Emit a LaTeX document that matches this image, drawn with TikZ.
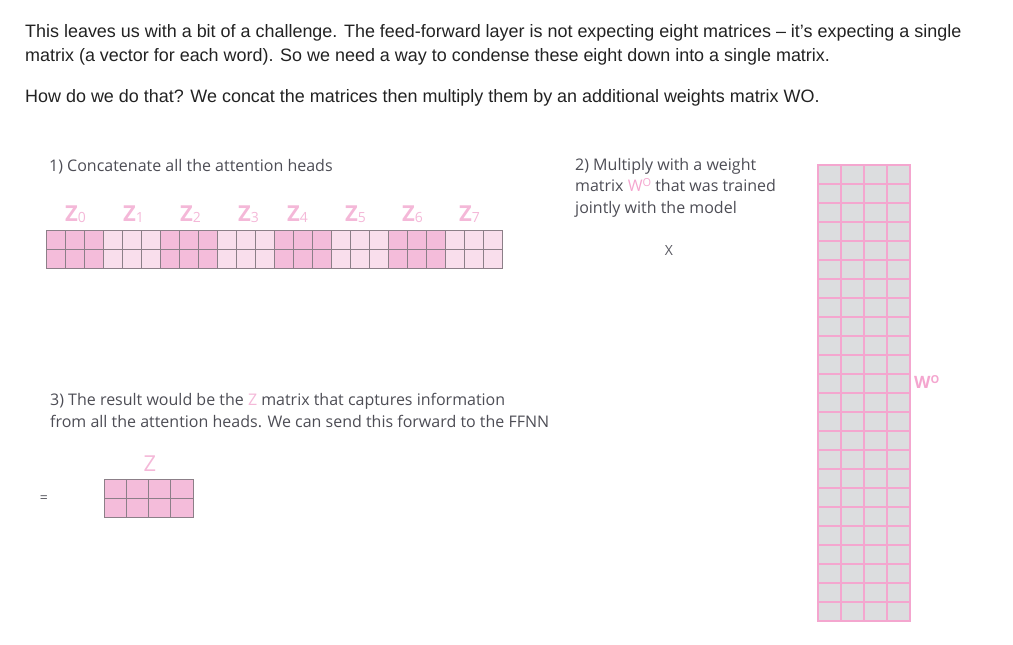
\documentclass[tikz,border=0pt]{standalone}
\usepackage{fontspec}
\setmainfont{Liberation Sans}
\newfontfamily\stepfont{Open Sans}
\usetikzlibrary{positioning}
\definecolor{ink}{HTML}{222222}
\definecolor{stepgray}{HTML}{4D4D55}
\definecolor{zpink}{HTML}{F4B8D8}
\definecolor{wpink}{HTML}{F4A6CF}
\definecolor{cellfull}{HTML}{F4BCDA}
\definecolor{celllight}{HTML}{F9DEEC}
\definecolor{gridline}{HTML}{8C7F88}
\definecolor{wgrey}{HTML}{DCDDDF}
\definecolor{signgray}{HTML}{5A5A62}
\newcommand{\zsub}[1]{\raisebox{-1pt}{\fontsize{14}{14}\selectfont\mdseries #1}}
\newcommand{\wsup}{\raisebox{5pt}{\fontsize{11}{11}\selectfont O}}
\tikzset{
  para/.style={anchor=base west, inner sep=0pt, text=ink, font=\fontsize{17.95}{24}\selectfont},
  steptxt/.style={anchor=base west, inner sep=0pt, text=stepgray, font=\stepfont\fontsize{16}{21.3}\selectfont, align=left},
  zlab/.style={anchor=base west, inner sep=0pt, text=zpink, font=\stepfont\bfseries\fontsize{22}{22}\selectfont},
  zbig/.style={anchor=base, inner sep=0pt, text=zpink, font=\stepfont\fontsize{22}{22}\selectfont},
  wlab/.style={anchor=base west, inner sep=0pt, text=wpink, font=\stepfont\bfseries\fontsize{17}{17}\selectfont},
  sign/.style={anchor=base, inner sep=0pt, text=signgray, font=\stepfont\fontsize{14}{14}\selectfont},
  zcell/.style={draw=gridline, line width=0.9pt},
  wcell/.style={draw=wpink, fill=wgrey, line width=2pt},
}
\begin{document}
\begin{tikzpicture}[x=1pt,y=-1pt]
\useasboundingbox (0,0) rectangle (1013,645);
\node[para] (intro1) at (25,37) {This leaves us with a bit of a challenge. The feed-forward layer is not expecting eight matrices – it’s expecting a single};
\node[para] (intro2) at (25,61) {matrix (a vector for each word). So we need a way to condense these eight down into a single matrix.};
\node[para] (intro3) at (25,102) {How do we do that? We concat the matrices then multiply them by an additional weights matrix WO.};

\node[steptxt] (step1) at (49,171) {1) Concatenate all the attention heads};
\foreach \g/\x in {0/65,1/123,2/180,3/238,4/287,5/345,6/402,7/459}{
  \node[zlab] (z\g) at (\x,221) {Z\zsub{\g}};
}
\foreach \g/\col in {0/cellfull,1/celllight,2/cellfull,3/celllight,4/cellfull,5/celllight,6/cellfull,7/celllight}{
  \foreach \k in {0,1,2}{
    \foreach \r in {0,1}{
      \draw[zcell, fill=\col] ({46+57*\g+19*\k},{230+19*\r}) rectangle ++(19,19);
    }
  }
}

\node[steptxt] (step2) at (575,213) {2) Multiply with a weight\\matrix {\color{wpink}W\wsup} that was trained\\jointly with the model};
\node[sign] (times) at (669,255) {X};
\foreach \r in {0,...,23}{
  \foreach \c in {0,...,3}{
    \draw[wcell] ({818+23*\c},{165+19*\r}) rectangle ++(23,19);
  }
}
\node[wlab] (wo) at (914,388) {W\wsup};

\node[steptxt] (step3) at (50,427) {3) The result would be the {\color{zpink}Z} matrix that captures information\\from all the attention heads. We can send this forward to the FFNN};
\node[zbig] (zres) at (150,471) {Z};
\foreach \r in {0,1}{
  \foreach \c in {0,...,3}{
    \draw[zcell, fill=cellfull] ({104+22.25*\c},{479+19*\r}) rectangle ++(22.25,19);
  }
}
\node[sign] (eq) at (44,502) {=};
\end{tikzpicture}
\end{document}
